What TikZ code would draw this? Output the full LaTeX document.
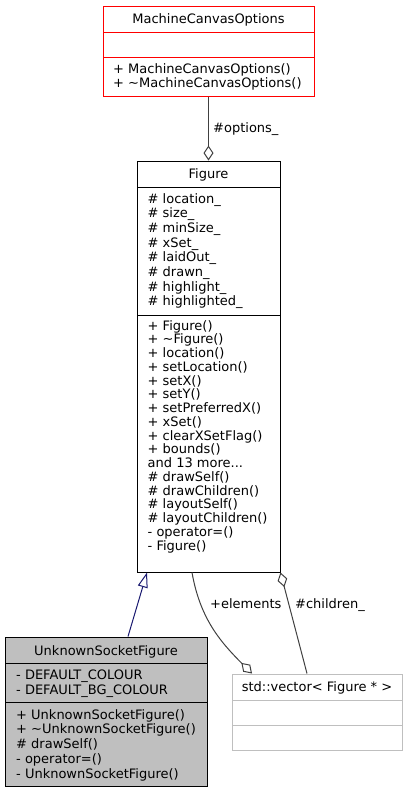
\documentclass[tikz,border=0pt]{standalone}
\usepackage{fontspec}
\setmainfont{DejaVu Sans}
\usetikzlibrary{arrows.meta}
\definecolor{edgegray}{HTML}{404040}
\definecolor{basefill}{HTML}{BFBFBF}
\definecolor{listgray}{HTML}{BFBFBF}
\definecolor{inheritblue}{HTML}{191970}
\newcommand{\moredots}{...}

\tikzset{
  classbox/.style={draw=black, line width=1pt, inner sep=0pt},
  txt/.style={inner sep=0pt, font=\fontsize{13}{14}\selectfont},
  member/.style={txt, anchor=base west},
  classtitle/.style={txt, anchor=base},
  compose/.style={edgegray, line width=1pt, -{Diamond[open, length=15pt, width=10pt]}},
  inherit/.style={inheritblue, line width=1pt, -{Triangle[open, length=15pt, width=10pt]}},
}

\begin{document}
\begin{tikzpicture}[x=1pt,y=-1pt]
  \useasboundingbox (0,0) rectangle (407,793);

  % MachineCanvasOptions
  \node[classbox, draw=red, minimum width=211pt, minimum height=90pt] (mco) at (208.5,51) {};
  \draw[red, line width=1pt] (103,32) -- (314,32) (103,57) -- (314,57);
  \node[classtitle] (mcotitle) at (208.5,23) {MachineCanvasOptions};
  \node[member] (mcom1) at (113,73) {+ MachineCanvasOptions()};
  \node[member] (mcom2) at (113,87) {+ \textasciitilde MachineCanvasOptions()};

  % Figure
  \node[classbox, minimum width=143pt, minimum height=411pt] (figure) at (208.5,366.5) {};
  \draw[line width=1pt] (137,187) -- (280,187) (137,315) -- (280,315);
  \node[classtitle] (figtitle) at (208.5,178) {Figure};
  \foreach \txt [count=\i] in {location\_, size\_, minSize\_, xSet\_, laidOut\_,
      drawn\_, highlight\_, highlighted\_}
    \node[member] (figa\i) at (147.5,{203+14.7*(\i-1)}) {\# \txt};
  \foreach \txt [count=\i] in {+ Figure(), + \textasciitilde Figure(), + location(),
      + setLocation(), + setX(), + setY(), + setPreferredX(), + xSet(),
      + clearXSetFlag(), + bounds(), and 13 more\moredots, \# drawSelf(),
      \# drawChildren(), \# layoutSelf(), \# layoutChildren(), - operator=(),
      - Figure()}
    \node[member] (figm\i) at (147.5,{330+13.75*(\i-1)}) {\txt};

  % UnknownSocketFigure
  \node[classbox, fill=basefill, minimum width=202pt, minimum height=149pt] (usf) at (106,711.5) {};
  \draw[line width=1pt] (5,663) -- (207,663) (5,702) -- (207,702);
  \node[classtitle] (usftitle) at (106,655) {UnknownSocketFigure};
  \node[member] (usfa1) at (16,679) {- DEFAULT\_COLOUR};
  \node[member] (usfa2) at (16,694) {- DEFAULT\_BG\_COLOUR};
  \foreach \txt [count=\i] in {+ UnknownSocketFigure(), + \textasciitilde UnknownSocketFigure(),
      \# drawSelf(), - operator=(), - UnknownSocketFigure()}
    \node[member] (usfm\i) at (16,{719+14.75*(\i-1)}) {\txt};

  % std::vector
  \node[classbox, draw=listgray, minimum width=170pt, minimum height=76pt] (vec) at (317,712) {};
  \draw[listgray, line width=1pt] (232,700) -- (402,700) (232,725) -- (402,725);
  \node[classtitle] (vectitle) at (317,691) {std::vector< Figure * >};

  % relations
  \draw[compose] (mco.south) -- (figure.north);
  \node[member] (optlabel) at (213,132) {\#options\_};

  \draw[inherit] ([xshift=22pt]usf.north) -- ([xshift=-61.5pt]figure.south);

  \draw[compose] ([xshift=-16.5pt]figure.south) to[out=-80, in=135] ([xshift=-65pt]vec.north);
  \node[member] (elemlabel) at (210,608) {+elements};

  \draw[compose] ([xshift=-10pt]vec.north) -- (figure.south east);
  \node[member] (childlabel) at (295,608) {\#children\_};
\end{tikzpicture}
\end{document}
